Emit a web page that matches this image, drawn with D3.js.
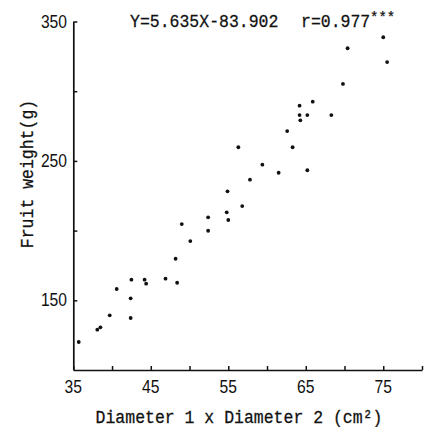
<!DOCTYPE html>
<html>
<head>
<meta charset="utf-8">
<script src="https://cdn.jsdelivr.net/npm/d3@7"></script>
<style>
  body { margin: 0; background: #fff; }
  svg { display: block; }
  .mono { font-family: "Liberation Mono", "DejaVu Sans Mono", monospace; stroke: #111; stroke-width: 0.25; }
  .tick-lbl { font-family: "Liberation Sans", Arial, sans-serif; }
</style>
</head>
<body>
<div id="chart"></div>
<script>
// data
var diam = [35.7, 38.1, 38.5, 39.7, 42.4, 42.4, 40.6, 42.5, 44.2, 44.4, 46.9, 48.4, 48.2, 50.1, 49.0,
            52.4, 52.4, 54.8, 55.0, 56.8, 54.9, 57.8, 59.4, 61.5, 56.3, 63.3, 65.2, 62.6, 64.2, 64.2,
            65.2, 64.3, 65.9, 68.3, 69.8, 70.4, 75.0, 75.5];
var weight = [120.1, 128.9, 130.6, 139.2, 137.3, 151.4, 158.1, 164.8, 164.8, 161.9, 165.5, 162.6, 179.8, 192.5, 204.7,
              199.9, 209.5, 213.1, 207.6, 217.6, 228.2, 236.5, 247.3, 241.5, 259.8, 259.8, 243.3, 271.4, 289.6, 282.9,
              282.9, 279.1, 292.5, 282.9, 305.2, 330.8, 338.7, 320.9];
var xTicks = [35, 40, 45, 50, 55, 60, 65, 70, 75, 80];
var xLabels = [35, 45, 55, 65, 75];
var yTicks = [150, 200, 250, 300, 350];
var yLabels = [150, 250, 350];

var width = 427, height = 427;
var svg = d3.select("#chart").append("svg")
    .attr("width", width)
    .attr("height", height);

var x = d3.scaleLinear().domain([35, 80]).range([73.3, 422]);
var y = d3.scaleLinear().domain([100, 350]).range([370, 21.5]);

// axes, ticks pointing inward
var xAxis = svg.append("g")
    .attr("transform", "translate(0," + y(100) + ")")
    .call(d3.axisTop(x).tickValues(xTicks).tickSize(4).tickSizeOuter(0).tickFormat(""));
var yAxis = svg.append("g")
    .attr("transform", "translate(" + x(35) + ",0)")
    .call(d3.axisRight(y).tickValues(yTicks).tickSize(4).tickSizeOuter(0).tickFormat(""));
svg.selectAll(".domain").attr("stroke", "#111").attr("stroke-width", 1.7);
svg.selectAll(".tick line").attr("stroke", "#111").attr("stroke-width", 1.5);

// tick labels
svg.append("g").selectAll("text")
    .data(xLabels)
    .enter().append("text")
    .attr("class", "tick-lbl")
    .attr("transform", d => "translate(" + x(d) + ",393) scale(0.92,1.08)")
    .attr("text-anchor", "middle")
    .attr("font-size", 17)
    .attr("fill", "#111")
    .text(d => d);

svg.append("g").selectAll("text")
    .data(yLabels)
    .enter().append("text")
    .attr("class", "tick-lbl")
    .attr("transform", d => "translate(67," + (y(d) + 6) + ") scale(0.92,1.08)")
    .attr("text-anchor", "end")
    .attr("font-size", 17)
    .attr("fill", "#111")
    .text(d => d);

// axis titles
svg.append("text")
    .attr("class", "mono")
    .attr("transform", "translate(239,423) scale(1,1.12)")
    .attr("text-anchor", "middle")
    .attr("font-size", 16.5)
    .attr("fill", "#111")
    .text("Diameter 1 x Diameter 2 (cm²)");

svg.append("text")
    .attr("class", "mono")
    .attr("transform", "translate(33,174) rotate(-90) scale(1,1.12)")
    .attr("text-anchor", "middle")
    .attr("font-size", 16.5)
    .attr("fill", "#111")
    .text("Fruit weight(g)");

// regression note
svg.append("text")
    .attr("class", "mono")
    .attr("transform", "translate(130,27) scale(1,1.12)")
    .attr("font-size", 16.5)
    .attr("fill", "#111")
    .text("Y=5.635X-83.902");
svg.append("text")
    .attr("class", "mono")
    .attr("transform", "translate(301,27) scale(1,1.12)")
    .attr("font-size", 16.5)
    .attr("fill", "#111")
    .text("r=0.977");
svg.append("text")
    .attr("class", "mono")
    .attr("x", 370)
    .attr("y", 22)
    .attr("font-size", 14)
    .attr("fill", "#111")
    .text("***");

// points
svg.append("g").selectAll("circle")
    .data(diam)
    .enter().append("circle")
    .attr("cx", d => x(d))
    .attr("cy", (d, i) => y(weight[i]))
    .attr("r", 1.9)
    .attr("fill", "#111");
</script>
</body>
</html>
